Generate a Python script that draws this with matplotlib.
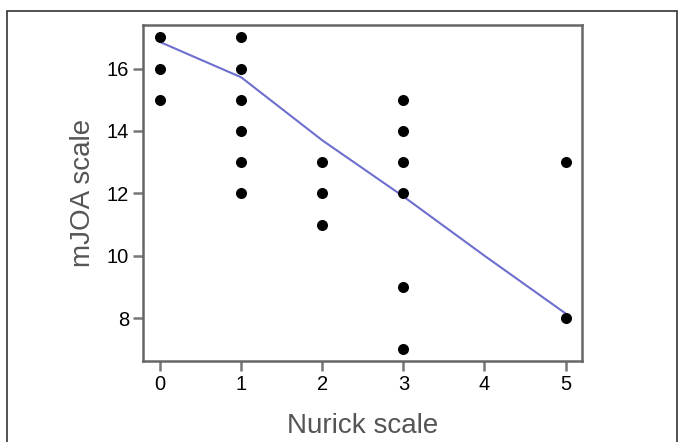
import matplotlib
matplotlib.use("Agg")
import matplotlib.pyplot as plt
from matplotlib.patches import Rectangle

# Datos
nurick = [0, 0, 0, 1, 1, 1, 1, 1, 1, 2, 2, 2, 3, 3, 3, 3, 3, 3, 5, 5]
mjoa = [17, 16, 15, 17, 16, 15, 14, 13, 12, 13, 12, 11, 15, 14, 13, 12, 9, 7, 13, 8]

fit_x = [0, 1, 2, 3, 4, 5]
fit_y = [16.85, 15.72, 13.7, 11.9, 10.0, 8.15]

plt.rcParams['font.family'] = ['Liberation Sans', 'DejaVu Sans']

fig = plt.figure(figsize=(6.78, 4.42), dpi=100)
ax = fig.add_axes([0.211, 0.183, 0.647, 0.760])

ax.plot(fit_x, fit_y, color="#6e6ecf", linewidth=1.5, zorder=2)
ax.scatter(nurick, mjoa, s=48, color="black", zorder=3)

ax.set_xlim(-0.21, 5.2)
ax.set_ylim(6.62, 17.39)
ax.set_xticks([0, 1, 2, 3, 4, 5])
ax.set_yticks([8, 10, 12, 14, 16])

for s in ax.spines.values():
    s.set_color("#666666")
    s.set_linewidth(1.8)
ax.tick_params(length=7, width=1.8, color="#777777", labelsize=14.5, pad=3)

ax.set_xlabel("Nurick scale", fontsize=20, color="#555555")
ax.set_ylabel("mJOA scale", fontsize=20, color="#555555")
ax.xaxis.set_label_coords(0.5, -0.155)
ax.yaxis.set_label_coords(-0.107, 0.5)

# marco exterior
fig.patches.append(Rectangle((7 / 678, -0.1), 670 / 678, 1.1 - 11 / 442, transform=fig.transFigure,
                             fill=False, edgecolor="#333333", linewidth=1.2))

fig.savefig("out.png", dpi=100)
